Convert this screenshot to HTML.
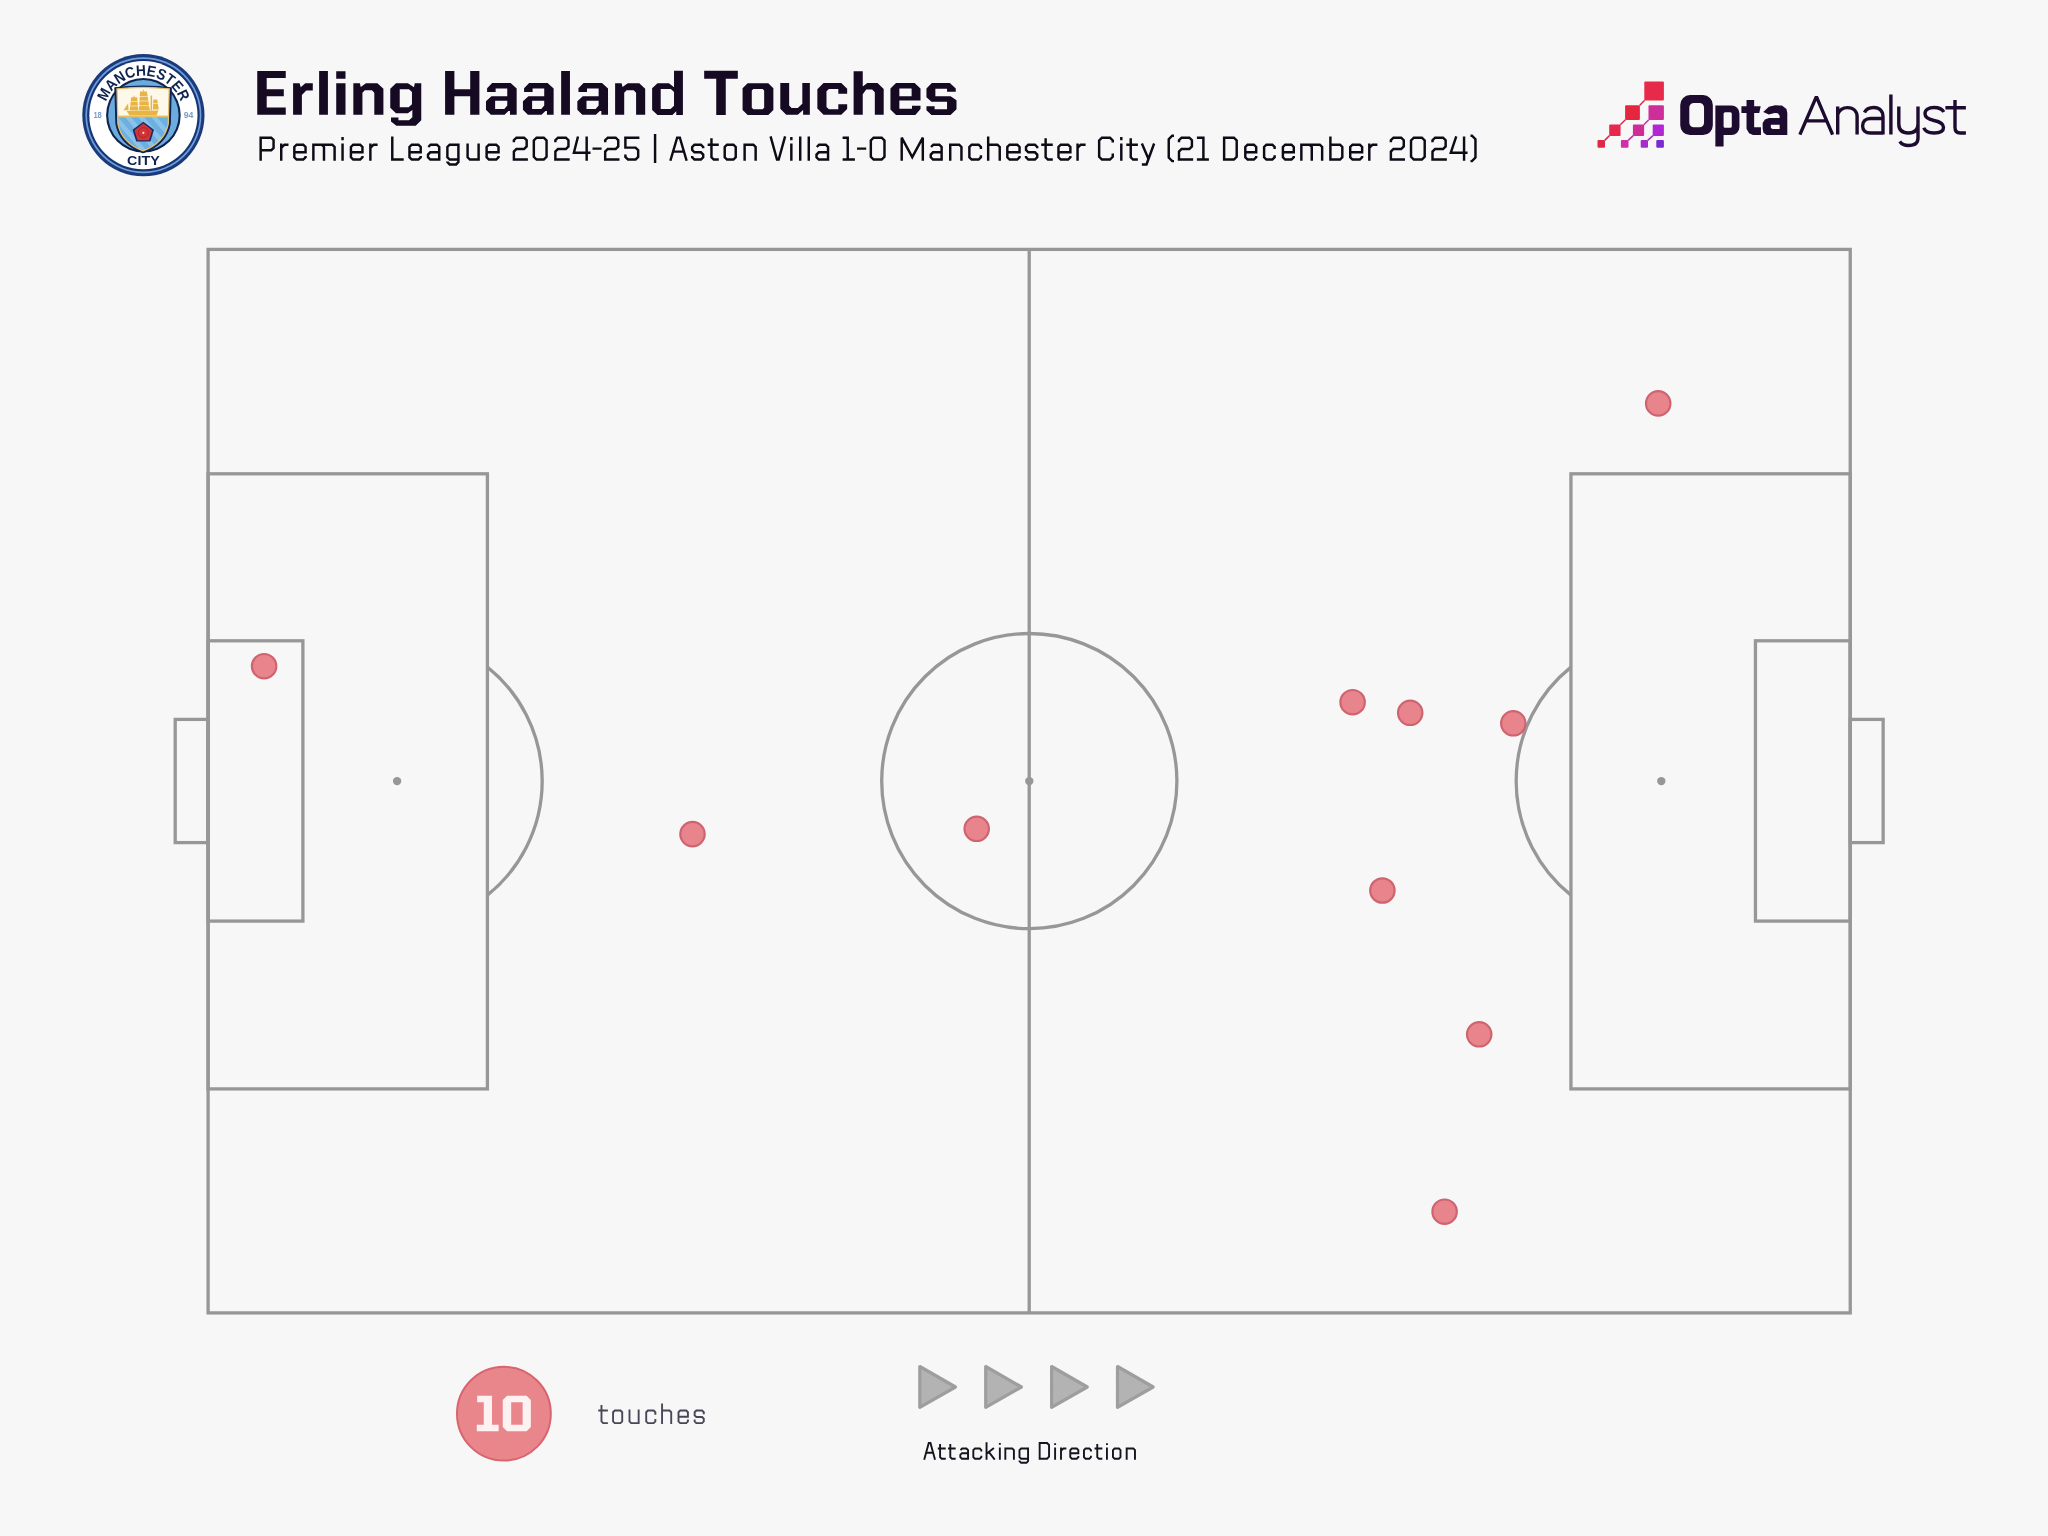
<!DOCTYPE html>
<html><head><meta charset="utf-8">
<style>
html,body{margin:0;padding:0;background:#f7f7f7;}
body{width:2048px;height:1536px;overflow:hidden;}
svg{display:block;will-change:transform;}
text{font-family:"Liberation Sans",sans-serif;}
</style></head>
<body>
<svg width="2048" height="1536" viewBox="0 0 2048 1536">
<rect width="2048" height="1536" fill="#f7f7f7"/>
<!-- pitch -->
<g fill="none" stroke="#979797" stroke-width="3.3" stroke-linejoin="miter">
  <rect x="208.1" y="249.4" width="1642.15" height="1063.5"/>
  <line x1="1029.2" y1="249.4" x2="1029.2" y2="1312.9"/>
  <circle cx="1029.3" cy="781.1" r="147.6"/>
  <!-- left -->
  <rect x="208.1" y="473.8" width="279.3" height="615.1"/>
  <rect x="208.1" y="640.8" width="94.8" height="280.3"/>
  <rect x="175.2" y="719.4" width="32.9" height="123.2"/>
  <path d="M487.4 667.1 A146 146 0 0 1 487.4 895.1"/>
  <!-- right -->
  <rect x="1570.95" y="473.8" width="279.3" height="615.1"/>
  <rect x="1755.45" y="640.8" width="94.8" height="280.3"/>
  <rect x="1850.25" y="719.4" width="32.9" height="123.2"/>
  <path d="M1570.95 667.1 A146 146 0 0 0 1570.95 895.1"/>
</g>
<g fill="#979797">
  <circle cx="1029.3" cy="781.1" r="4.2"/>
  <circle cx="397.1" cy="781.1" r="4.2"/>
  <circle cx="1661.3" cy="781.1" r="4.2"/>
</g>
<!-- dots -->
<g fill="#e8848b" stroke="#cf6470" stroke-width="2.2">
  <circle cx="1658.2" cy="403.4" r="12.2"/>
  <circle cx="264.1" cy="666.2" r="12.2"/>
  <circle cx="1352.6" cy="702.2" r="12.2"/>
  <circle cx="1410.2" cy="712.8" r="12.2"/>
  <circle cx="1513.3" cy="723.3" r="12.2"/>
  <circle cx="692.5" cy="834.1" r="12.2"/>
  <circle cx="976.7" cy="828.8" r="12.2"/>
  <circle cx="1382.4" cy="890.5" r="12.2"/>
  <circle cx="1479.2" cy="1034.3" r="12.2"/>
  <circle cx="1444.6" cy="1211.7" r="12.2"/>
</g>
<!-- opta logo -->
<g>
  <g stroke-width="1.5" fill="none">
    <line x1="1639.6" y1="105.5" x2="1644.6" y2="100.2" stroke="#e0284a"/>
    <line x1="1620.3" y1="124.8" x2="1625.4" y2="119.8" stroke="#e0284a"/>
    <line x1="1604.7" y1="140.4" x2="1609.5" y2="135.6" stroke="#e0284a"/>
    <line x1="1643.8" y1="124.8" x2="1648.8" y2="119.8" stroke="#cc2e9c"/>
    <line x1="1628.2" y1="140.4" x2="1633.2" y2="135.6" stroke="#cc2e9c"/>
    <line x1="1647.7" y1="140.4" x2="1653.0" y2="135.6" stroke="#a42dc8"/>
  </g>
  <rect x="1644.3" y="81.5" width="19.6" height="19" rx="1" fill="#e82a4a"/>
  <rect x="1625.1" y="105.2" width="14.8" height="14.85" rx="1" fill="#e6263f"/>
  <rect x="1648.5" y="105.2" width="15.4" height="14.85" rx="1" fill="#cd2e9a"/>
  <rect x="1609.2" y="124.5" width="11.4" height="11.4" rx="1" fill="#e6284c"/>
  <rect x="1632.9" y="124.5" width="11.2" height="11.4" rx="1" fill="#cf2c98"/>
  <rect x="1652.7" y="124.5" width="11.2" height="11.4" rx="1" fill="#b226d4"/>
  <rect x="1597.5" y="140.1" width="7.5" height="7.6" rx="1" fill="#e02848"/>
  <rect x="1620.9" y="140.1" width="7.6" height="7.6" rx="1" fill="#cf30a6"/>
  <rect x="1640.7" y="140.1" width="7.3" height="7.6" rx="1" fill="#a52dc8"/>
  <rect x="1656.3" y="140.1" width="7.6" height="7.6" rx="1" fill="#7a2ad0"/>
  <path fill="#1e0b30" fill-rule="evenodd" d="M1690.05 95.08 H1703.02 A9.8 9.8 0 0 1 1712.82 104.88 V125.21 A9.8 9.8 0 0 1 1703.02 135.01 H1690.05 A9.8 9.8 0 0 1 1680.25 125.21 V104.88 A9.8 9.8 0 0 1 1690.05 95.08 Z M1693.81 103.01 H1699.54 A4.5 4.5 0 0 1 1704.04 107.51 V122.87 A4.5 4.5 0 0 1 1699.54 127.37 H1693.81 A4.5 4.5 0 0 1 1689.31 122.87 V107.51 A4.5 4.5 0 0 1 1693.81 103.01 Z M1715.37 105.5 H1731.5 A8 8 0 0 1 1739.44 113.5 V127 A8 8 0 0 1 1731.5 135.01 H1723.58 V146.62 H1715.37 Z M1725.08 112.36 H1730.29 A1.5 1.5 0 0 1 1731.79 113.86 V126.15 A1.5 1.5 0 0 1 1730.29 127.65 H1725.08 A1.5 1.5 0 0 1 1723.58 126.15 V113.86 A1.5 1.5 0 0 1 1725.08 112.36 Z M1746.52 99.89 L1754.16 99.89 L1754.16 106.13 L1760.68 106.13 L1759.26 112.92 L1754.16 112.92 L1754.16 127.37 L1760.96 127.37 L1760.96 135.01 L1753.03 135.01 L1749.07 133.31 L1746.52 128.78 L1746.52 112.92 L1741.42 112.92 L1741.42 106.13 L1746.52 106.13 Z M1763.22 112.07 L1768.89 106.69 L1775.12 105.28 L1781.92 105.56 L1786.45 108.96 L1787.30 112.92 L1787.30 135.01 L1766.62 135.01 L1763.51 132.75 L1762.66 128.78 L1762.66 123.12 L1764.92 119.44 L1768.89 118.02 L1779.65 118.02 L1779.65 115.75 L1777.95 113.21 L1774.55 112.92 L1768.89 114.62 Z M1770.87 124.82 L1779.65 124.82 L1779.65 129.06 L1772.29 129.06 L1770.87 127.65 Z"/>
<path fill="none" stroke="#1e0b30" stroke-width="3.4" stroke-linejoin="bevel" d="M1799.9 134.6 L1816.4 96.6 L1832.6 134.6 M1807.2 120.9 H1825.6 M1837.7 106.4 V134.6 M1837.7 114.5 C1839.5 109.5 1843.5 107.6 1847.6 107.6 C1853.5 107.6 1857.1 111.5 1857.1 117 V134.6 M1864.5 112.5 C1866 109 1869.5 107.5 1873.8 107.5 C1879.5 107.5 1883 111 1883 117 V134.6 M1883 118.5 H1870.5 C1865.5 118.5 1862.6 121.5 1862.6 126 C1862.6 130.3 1865.5 133 1870.5 133 H1883 M1890.9 94.4 V134.6 M1898.8 106.4 V124 C1898.8 130 1902.5 133 1908.4 133 C1914.3 133 1918 130 1918 124 M1918 106.4 V138 C1918 143.5 1914.3 145.5 1908.4 145.5 C1904.3 145.5 1901.5 144 1899.7 141.5 M1943.8 112 C1942 108.8 1938.8 107.5 1934 107.5 C1928.5 107.5 1925 109.8 1925 113.8 C1925 117.8 1928.5 119.3 1934 120.5 C1940 121.7 1943.5 123.5 1943.5 127.5 C1943.5 131.3 1939.5 133 1934 133 C1928.5 133 1925 131.3 1923.8 127.8 M1955 99.96 V127.5 C1955 131.5 1956.7 133 1960.2 133 H1965.9 M1945.4 107.8 H1965.9"/>
</g>
<!-- badge -->
<g>
  <circle cx="143.4" cy="115.2" r="61.1" fill="#1a3a7c"/>
  <circle cx="143.4" cy="115.2" r="58.0" fill="#6e9fd8"/>
  <circle cx="143.4" cy="115.2" r="56.3" fill="#173476"/>
  <circle cx="143.4" cy="115.2" r="54.1" fill="#ffffff"/>
  <circle cx="143.4" cy="115.2" r="37.3" fill="#0f2350"/>
  <circle cx="143.4" cy="115.2" r="35.2" fill="#6cabdd"/>
  <defs>
    <path id="arcM" d="M103.9 115.2 A39.5 39.5 0 0 1 182.9 115.2"/>
    <clipPath id="shclip"><path d="M117 88.9 Q143 85.8 169.2 88.9 L168.3 123.6 Q165 142.5 143.1 150.9 Q121.2 142.5 117.9 123.6 Z"/></clipPath>
  </defs>
  <text font-size="15.2" font-weight="bold" fill="#0f2350"><textPath href="#arcM" startOffset="50%" text-anchor="middle" textLength="97" lengthAdjust="spacingAndGlyphs">MANCHESTER</textPath></text>
  <text x="143.4" y="165.1" font-size="13.4" font-weight="bold" fill="#0f2350" text-anchor="middle" textLength="32.6" lengthAdjust="spacingAndGlyphs">CITY</text>
  <text x="97.6" y="118.4" font-size="8.5" font-weight="bold" fill="#7a9cc8" text-anchor="middle" textLength="8.4" lengthAdjust="spacingAndGlyphs">18</text>
  <text x="188.6" y="118.4" font-size="8.5" font-weight="bold" fill="#7a9cc8" text-anchor="middle" textLength="9.7" lengthAdjust="spacingAndGlyphs">94</text>
  <path d="M114.9 87.8 Q143 84.2 171.25 87.8 L170.2 124 Q166.5 144.5 143.1 152.8 Q119.7 144.5 116 124 Z" fill="#0f2350" stroke="#0f2350" stroke-width="1.2" stroke-linejoin="round"/>
  <g clip-path="url(#shclip)">
    <rect x="110" y="80" width="70" height="37" fill="#fdf8ea"/>
    <rect x="110" y="116.7" width="70" height="40" fill="#6db0e0"/>
    <g fill="#96c8ee" opacity="0.75">
      <path d="M112 117 L118 117 L152 157 L146 157 Z"/>
      <path d="M125 117 L131 117 L165 157 L159 157 Z"/>
      <path d="M138 117 L144 117 L178 157 L172 157 Z"/>
      <path d="M151 117 L157 117 L191 157 L185 157 Z"/>
    </g>
    <rect x="110" y="115.6" width="70" height="1.8" fill="#e4bf63"/>
  </g>
  <path d="M117 88.9 Q143 85.8 169.2 88.9 L168.3 123.6 Q165 142.5 143.1 150.9 Q121.2 142.5 117.9 123.6 Z" fill="none" stroke="#e2c271" stroke-width="1.3"/>
  <!-- ship -->
  <g fill="#e8b545">
    <path d="M126.6 110.9 L158.4 110.4 L156.6 115.6 L129.6 115.6 Z"/>
    <path d="M123.6 110.2 L128.1 103.2 L128.5 110.2 Z"/>
    <path d="M131.2 97.2 L137.1 97.2 L138.5 110.4 L129.6 110.4 Z"/>
    <path d="M140.0 91.6 L146.9 91.6 L149.9 110.6 L139.0 110.6 Z"/>
    <path d="M153.3 99.6 L157.2 99.6 L158.8 109.6 L152.9 109.6 Z"/>
  </g>
  <g fill="#fdf8ea" opacity="0.85">
    <rect x="129" y="101.2" width="10" height="0.7"/>
    <rect x="129" y="105.6" width="10" height="0.7"/>
    <rect x="138.5" y="96.0" width="12" height="0.7"/>
    <rect x="138.5" y="100.6" width="12" height="0.7"/>
    <rect x="138.5" y="105.4" width="12" height="0.7"/>
    <rect x="152.5" y="103.2" width="7" height="0.7"/>
  </g>
  <rect x="150.6" y="95.5" width="1.5" height="15" fill="#e8b545"/>
  <rect x="133.6" y="95.6" width="0.9" height="2" fill="#e8b545"/>
  <rect x="143.0" y="89.8" width="0.9" height="2" fill="#e8b545"/>
  <!-- rose -->
  <path d="M143.3 121.8 L154 129.8 L150.4 141.6 L136.2 141.6 L132.6 129.8 Z" fill="#1c2a66"/>
  <path d="M143.3 123.6 L152.1 130.3 L149.1 140.2 L137.5 140.2 L134.5 130.3 Z" fill="#d43436"/>
  <circle cx="143.3" cy="132.6" r="5" fill="none" stroke="#9a1e2a" stroke-width="0.7"/>
  <circle cx="143.3" cy="132.8" r="1.1" fill="#f8e6c8"/>
</g>
<!-- title -->
<path fill="#150a22" fill-rule="evenodd" d="M257.26 70.93 L285.74 70.93 L285.74 78.09 L266.70 78.09 L266.70 89.16 L283.79 89.16 L283.79 96.16 L266.70 96.16 L266.70 107.55 L285.74 107.55 L285.74 114.73 L257.26 114.73 Z M293.09 83.14 L299.60 83.14 L300.74 87.20 L305.30 83.14 L312.79 83.14 L312.79 90.46 L306.30 90.46 L301.88 95.02 L301.88 114.73 L293.09 114.73 Z M319.13 71.09 L327.92 71.09 L327.92 114.73 L319.13 114.73 Z M336.22 71.26 L345.50 71.26 L345.50 78.74 L336.22 78.74 Z M336.22 83.14 L345.50 83.14 L345.50 114.73 L336.22 114.73 Z M353.34 83.20 L359.83 83.20 L360.76 86.90 L365.96 83.20 L377.46 83.20 L383.40 88.76 L383.40 114.73 L374.31 114.73 L374.31 92.84 L371.90 90.25 L364.84 90.25 L362.43 92.84 L362.43 114.73 L353.34 114.73 Z M390.26 88.76 L396.02 83.20 L407.89 83.20 L414.01 87.28 L414.76 83.20 L421.25 83.20 L421.25 120.31 L415.68 125.87 L396.39 125.87 L391.01 121.42 L391.01 117.52 L398.43 117.52 L398.43 120.31 L409.00 120.31 L412.34 117.34 L412.34 109.91 L407.89 113.25 L396.02 113.25 L390.26 107.69 Z M399.73 89.13 L409.00 89.13 L411.97 92.10 L411.97 104.35 L408.63 107.32 L399.73 107.32 Z M445.10 70.93 L454.40 70.93 L454.40 89.16 L470.20 89.16 L470.20 70.93 L479.40 70.93 L479.40 114.73 L470.20 114.73 L470.20 96.16 L454.40 96.16 L454.40 114.73 L445.10 114.73 Z M487.09 88.16 L492.16 83.09 L510.60 83.09 L516.66 88.54 L516.66 114.64 L509.98 114.64 L509.98 110.93 L508.49 110.93 L504.53 114.64 L490.93 114.64 L485.98 109.69 L485.98 101.28 L491.42 96.33 L507.26 96.33 L507.26 88.41 L495.63 88.41 L495.63 92.12 L487.09 92.12 Z M495.13 100.78 L507.26 100.78 L507.26 105.48 L504.29 108.95 L495.13 108.95 Z M524.06 88.16 L529.13 83.09 L547.57 83.09 L553.63 88.54 L553.63 114.64 L546.95 114.64 L546.95 110.93 L545.46 110.93 L541.50 114.64 L527.90 114.64 L522.95 109.69 L522.95 101.28 L528.39 96.33 L544.23 96.33 L544.23 88.41 L532.60 88.41 L532.60 92.12 L524.06 92.12 Z M532.10 100.78 L544.23 100.78 L544.23 105.48 L541.26 108.95 L532.10 108.95 Z M578.46 88.16 L583.53 83.09 L601.97 83.09 L608.03 88.54 L608.03 114.64 L601.35 114.64 L601.35 110.93 L599.86 110.93 L595.90 114.64 L582.30 114.64 L577.35 109.69 L577.35 101.28 L582.79 96.33 L598.63 96.33 L598.63 88.41 L587.00 88.41 L587.00 92.12 L578.46 92.12 Z M586.50 100.78 L598.63 100.78 L598.63 105.48 L595.66 108.95 L586.50 108.95 Z M561.16 71.09 L569.95 71.09 L569.95 114.73 L561.16 114.73 Z M615.12 83.20 L621.61 83.20 L622.54 86.90 L627.74 83.20 L639.24 83.20 L645.18 88.76 L645.18 114.73 L636.09 114.73 L636.09 92.84 L633.68 90.25 L626.62 90.25 L624.21 92.84 L624.21 114.73 L615.12 114.73 Z M652.13 88.31 L657.52 83.23 L668.95 83.23 L674.03 87.36 L674.03 70.86 L682.91 70.86 L682.91 114.97 L676.25 114.97 L676.25 111.16 L672.44 114.97 L657.52 114.97 L652.13 109.89 Z M660.70 88.95 L670.85 88.95 L674.03 92.12 L674.03 105.77 L670.53 108.94 L660.70 108.94 Z M704.18 70.86 L737.82 70.86 L737.82 78.79 L725.76 78.79 L725.76 114.97 L716.24 114.97 L716.24 78.79 L704.18 78.79 Z M742.58 88.31 L747.66 83.23 L768.29 83.23 L773.36 88.31 L773.36 109.89 L768.29 114.97 L747.66 114.97 L742.58 109.89 Z M753.37 88.95 L762.57 88.95 L764.16 90.53 L764.16 107.67 L762.57 109.26 L753.37 109.26 L751.78 107.67 L751.78 90.53 Z M780.30 83.04 L789.16 83.04 L789.16 105.60 L791.58 108.02 L797.75 108.02 L802.32 103.72 L802.32 83.04 L809.84 83.04 L809.84 114.73 L803.12 114.73 L803.12 109.89 L797.75 114.73 L786.21 114.73 L780.30 108.82 Z M817.36 89.22 L823.53 83.04 L841.26 83.04 L847.17 88.68 L847.17 93.78 L838.31 93.78 L838.31 88.95 L828.91 88.95 L826.49 91.36 L826.49 106.94 L828.91 109.36 L838.31 109.36 L838.31 104.26 L847.17 104.26 L847.17 109.09 L841.26 114.73 L823.53 114.73 L817.36 108.55 Z M853.61 71.22 L862.74 71.22 L862.74 86.53 L867.31 83.04 L877.51 83.04 L883.69 88.95 L883.69 114.73 L874.83 114.73 L874.83 92.17 L872.14 89.48 L866.24 89.48 L862.74 94.32 L862.74 114.73 L853.61 114.73 Z M890.45 88.39 L896.02 83.01 L914.57 83.01 L920.51 88.58 L920.51 100.45 L899.36 100.45 L899.36 108.80 L911.98 108.80 L911.98 105.65 L920.51 105.65 L920.51 108.99 L915.32 114.92 L896.02 114.92 L890.45 109.54 Z M899.36 88.58 L911.61 88.58 L911.61 96.18 L899.36 96.18 Z M926.45 88.39 L931.83 83.01 L949.83 83.01 L955.77 88.58 L955.77 91.73 L947.05 91.73 L947.05 88.76 L935.36 88.76 L935.36 96.18 L950.57 96.18 L956.51 100.27 L956.51 109.36 L950.57 114.92 L931.46 114.92 L926.45 110.29 L926.45 106.20 L934.61 106.20 L934.61 109.17 L947.05 109.17 L947.05 101.75 L931.46 101.75 L926.45 97.30 Z"/>
<path fill="none" stroke="#0e0a16" stroke-width="2.45" stroke-linejoin="miter" stroke-miterlimit="3" d="M260.65 160.78 V137.65 H271.27 L273.57 139.95 V147.95 L271.27 150.25 H260.65 M281.24 160.78 V143.47 M281.24 147.90 L284.44 144.7 H288.47 M294.33 152.3 H305.55 V147.00 L303.25 144.7 H296.63 L294.33 147.00 V157.25 L296.63 159.55 H303.25 L305.55 157.25 V155.95 M313.38 160.78 V144.7 H332.30 L334.60 147.00 V160.78 M323.99 160.78 V147.00 L321.69 144.7 M342.55 160.78 V143.47 M342.55 136.9 V140.3 M350.93 152.3 H362.44 V147.00 L360.13 144.7 H353.23 L350.93 147.00 V157.25 L353.23 159.55 H360.13 L362.44 157.25 V155.95 M370.38 160.78 V143.47 M370.38 147.90 L373.58 144.7 H377.60 M392.28 136.43 V159.55 H403.68 M409.47 152.3 H420.71 V147.00 L418.41 144.7 H411.77 L409.47 147.00 V157.25 L411.77 159.55 H418.41 L420.71 157.25 V155.95 M428.30 147.00 L430.60 144.7 H436.94 L439.25 147.00 V160.78 M439.25 152.3 H430.30 L428.00 154.60 V157.25 L430.30 159.55 H439.25 M458.40 159.55 H449.68 L447.38 157.25 V147.00 L449.68 144.7 H458.40 M458.40 143.47 V162.10 L456.10 164.4 H449.68 L447.38 162.10 V161.60 M467.60 143.47 V157.25 L469.90 159.55 H478.61 M478.61 143.47 V160.78 M486.62 152.3 H498.54 V147.00 L496.24 144.7 H488.93 L486.62 147.00 V157.25 L488.93 159.55 H496.24 L498.54 157.25 V155.95 M513.88 142.2 V140.25 L516.48 137.65 H524.07 L526.67 140.25 V146.40 L524.07 149.0 H516.48 L513.88 151.60 V159.55 H527.90 M536.62 137.65 H543.77 L546.57 140.45 V156.75 L543.77 159.55 H536.62 L533.83 156.75 V140.45 Z M555.38 142.2 V140.25 L557.98 137.65 H565.85 L568.45 140.25 V146.40 L565.85 149.0 H557.98 L555.38 151.60 V159.55 H569.68 M578.00 136.43 L573.90 152.7 H590.50 M586.67 136.43 V160.78 M592.50 148.6 H601.60 M605.19 142.2 V140.25 L607.79 137.65 H615.65 L618.25 140.25 V146.40 L615.65 149.0 H607.79 L605.19 151.60 V159.55 H619.48 M639.40 137.65 H625.39 V147.6 H635.57 L638.17 150.20 V156.95 L635.57 159.55 H628.00 L625.39 156.95 V154.6 M655.08 134.1 V163.1 M670.37 160.78 L677.15 137.65 H679.85 L686.63 160.78 M673.27 151.6 H683.73 M703.20 148.30 V147.00 L700.90 144.7 H694.48 L692.18 147.00 V150.02 L694.48 152.32 H700.90 L703.20 154.62 V157.25 L700.90 159.55 H694.48 L692.18 157.25 V155.95 M711.46 138.3 V157.25 L713.76 159.55 H718.78 M707.65 144.7 H718.78 M727.00 144.7 H733.43 L735.73 147.00 V157.25 L733.43 159.55 H727.00 L724.70 157.25 V147.00 Z M744.62 160.78 V143.47 M744.62 144.7 H753.35 L755.64 147.00 V160.78 M770.57 136.43 L777.00 159.55 H778.69 L785.12 136.43 M791.34 160.78 V143.47 M791.34 136.9 V140.3 M800.23 160.78 V136.45 M808.77 160.78 V136.45 M816.79 147.00 L819.09 144.7 H825.75 L828.05 147.00 V160.78 M828.05 152.3 H818.79 L816.50 154.60 V157.25 L818.79 159.55 H828.05 M842.60 137.65 H847.74 V159.55 M842.60 159.55 H854.90 M857.00 148.6 H866.20 M873.62 137.65 H881.68 L884.48 140.45 V156.75 L881.68 159.55 H873.62 L870.83 156.75 V140.45 Z M901.70 160.78 V137.65 L912.26 157.2 L922.82 137.65 V160.78 M931.04 147.00 L933.34 144.7 H939.33 L941.62 147.00 V160.78 M941.62 152.3 H933.04 L930.75 154.60 V157.25 L933.04 159.55 H941.62 M950.23 160.78 V143.47 M950.23 144.7 H959.14 L961.44 147.00 V160.78 M980.92 148.90 V147.00 L978.62 144.7 H971.66 L969.37 147.00 V157.25 L971.66 159.55 H978.62 L980.92 157.25 V155.35 M988.17 136.45 V160.78 M988.17 144.7 H997.43 L999.73 147.00 V160.78 M1007.31 152.3 H1019.55 V147.00 L1017.25 144.7 H1009.61 L1007.31 147.00 V157.25 L1009.61 159.55 H1017.25 L1019.55 157.25 V155.95 M1037.24 148.30 V147.00 L1034.94 144.7 H1028.32 L1026.02 147.00 V150.02 L1028.32 152.32 H1034.94 L1037.24 154.62 V157.25 L1034.94 159.55 H1028.32 L1026.02 157.25 V155.95 M1045.63 138.3 V157.25 L1047.93 159.55 H1052.80 M1041.20 144.7 H1052.80 M1058.47 152.3 H1070.38 V147.00 L1068.09 144.7 H1060.77 L1058.47 147.00 V157.25 L1060.77 159.55 H1068.09 L1070.38 157.25 V155.95 M1077.56 160.78 V143.47 M1077.56 147.90 L1080.76 144.7 H1085.62 M1112.77 142.6 V140.45 L1109.97 137.65 H1101.95 L1099.15 140.45 V156.75 L1101.95 159.55 H1109.97 L1112.77 156.75 V153.6 M1121.30 160.78 V143.47 M1121.30 136.9 V140.3 M1130.74 138.3 V157.25 L1133.04 159.55 H1137.90 M1126.30 144.7 H1137.90 M1141.88 143.47 L1148.60 159.25 M1154.12 143.47 L1146.50 164.40 H1141.88 M1174.01 135.7 L1172.24 135.7 L1168.74 139.2 V157.6 L1172.24 161.1 H1174.01 M1178.99 142.2 V140.25 L1181.59 137.65 H1189.33 L1191.93 140.25 V146.40 L1189.33 149.0 H1181.59 L1178.99 151.60 V159.55 H1193.15 M1196.90 137.65 H1203.40 V159.55 M1196.90 159.55 H1208.90 M1224.12 137.65 H1233.91 L1236.71 140.45 V156.75 L1233.91 159.55 H1224.12 Z M1245.30 152.3 H1256.19 V147.00 L1253.89 144.7 H1247.60 L1245.30 147.00 V157.25 L1247.60 159.55 H1253.89 L1256.19 157.25 V155.95 M1274.63 148.90 V147.00 L1272.34 144.7 H1266.40 L1264.11 147.00 V157.25 L1266.40 159.55 H1272.34 L1274.63 157.25 V155.35 M1282.90 152.3 H1293.78 V147.00 L1291.48 144.7 H1285.20 L1282.90 147.00 V157.25 L1285.20 159.55 H1291.48 L1293.78 157.25 V155.95 M1301.36 160.78 V144.7 H1319.85 L1322.14 147.00 V160.78 M1311.75 160.78 V147.00 L1309.45 144.7 M1330.40 136.45 V159.55 H1340.01 L1342.31 157.25 V147.00 L1340.01 144.7 H1330.40 M1350.22 152.3 H1362.13 V147.00 L1359.84 144.7 H1352.52 L1350.22 147.00 V157.25 L1352.52 159.55 H1359.84 L1362.13 157.25 V155.95 M1369.30 160.78 V143.47 M1369.30 147.90 L1372.50 144.7 H1377.37 M1390.89 142.2 V140.25 L1393.49 137.65 H1401.16 L1403.76 140.25 V146.40 L1401.16 149.0 H1393.49 L1390.89 151.60 V159.55 H1404.98 M1413.83 137.65 H1421.90 L1424.70 140.45 V156.75 L1421.90 159.55 H1413.83 L1411.03 156.75 V140.45 Z M1432.51 142.2 V140.25 L1435.11 137.65 H1443.05 L1445.64 140.25 V146.40 L1443.05 149.0 H1435.11 L1432.51 151.60 V159.55 H1446.87 M1456.27 136.43 L1450.80 152.7 H1467.55 M1464.06 136.43 V160.78 M1470.50 135.7 L1471.96 135.7 L1475.46 139.2 V157.6 L1471.96 161.1 H1470.50"/>
<!-- legend -->
<circle cx="503.9" cy="1413.7" r="46.9" fill="#e8868c" stroke="#d9646f" stroke-width="2"/>
<path fill="#fdf1f2" fill-rule="evenodd" d="M477.16 1395.74 H492.02 V1424.74 H498.64 V1431.19 H476.8 V1424.74 H483.78 V1402.19 H477.16 Z M507.06 1395.74 H526.6 L530.87 1400.04 V1426.9 L526.6 1431.19 H507.06 L502.76 1426.9 V1400.04 Z M511.17 1402.19 H522.63 V1424.74 H511.17 Z"/>
<path fill="none" stroke="#4a4558" stroke-width="1.9" stroke-linejoin="miter" stroke-miterlimit="3" d="M601.48 1405.1 V1421.40 L603.18 1423.1 H607.88 M598.25 1410.55 H607.88 M614.78 1410.55 H620.52 L622.22 1412.25 V1421.40 L620.52 1423.1 H614.78 L613.08 1421.40 V1412.25 Z M629.50 1409.60 V1421.40 L631.20 1423.1 H638.65 M638.65 1409.60 V1424.05 M655.35 1414.75 V1412.25 L653.65 1410.55 H647.91 L646.21 1412.25 V1421.40 L647.91 1423.1 H653.65 L655.35 1421.40 V1418.90 M662.07 1403.4 V1424.05 M662.07 1410.55 H669.52 L671.22 1412.25 V1424.05 M678.50 1416.7 H687.92 V1412.25 L686.22 1410.55 H680.20 L678.50 1412.25 V1421.40 L680.20 1423.1 H686.22 L687.92 1421.40 V1419.50 M703.78 1414.15 V1412.25 L702.08 1410.55 H696.34 L694.64 1412.25 V1415.32 L696.34 1417.02 H702.08 L703.78 1418.72 V1421.40 L702.08 1423.1 H696.34 L694.64 1421.40 V1419.50"/>
<g fill="#b3b3b3" stroke="#9e9e9e" stroke-width="3.2" stroke-linejoin="round">
  <path d="M919.8 1366.5 L955.5 1387 L919.8 1407.3 Z"/>
  <path d="M985.7 1366.5 L1021.4 1387 L985.7 1407.3 Z"/>
  <path d="M1051.6 1366.5 L1087.3 1387 L1051.6 1407.3 Z"/>
  <path d="M1117.5 1366.5 L1153.2 1387 L1117.5 1407.3 Z"/>
</g>
<path fill="none" stroke="#17141f" stroke-width="1.9" stroke-linejoin="miter" stroke-miterlimit="3" d="M924.18 1459.65 L928.76 1443.0 H930.46 L935.04 1459.65 M926.38 1452.7 H932.84 M940.09 1444.0 V1457.10 L941.69 1458.7 H945.75 M937.82 1448.5 H945.75 M950.29 1444.0 V1457.10 L951.89 1458.7 H955.67 M948.02 1448.5 H955.67 M960.50 1450.10 L962.10 1448.5 H966.43 L968.03 1450.10 V1459.65 M968.03 1453.2 H961.90 L960.30 1454.80 V1457.10 L961.90 1458.7 H968.03 M981.34 1451.50 V1450.10 L979.74 1448.5 H974.93 L973.33 1450.10 V1457.10 L974.93 1458.7 H979.74 L981.34 1457.10 V1455.70 M986.54 1442.2 V1459.65 M986.54 1453.8 L993.94 1447.9 M989.14 1452.3 L994.74 1459.65 M999.85 1459.65 V1447.55 M999.85 1443.1 V1444.8 M1005.33 1459.65 V1447.55 M1005.33 1448.5 H1012.31 L1013.91 1450.10 V1459.65 M1028.07 1458.7 H1021.09 L1019.49 1457.10 V1450.10 L1021.09 1448.5 H1028.07 M1028.07 1447.55 V1461.20 L1026.47 1462.8 H1021.09 L1019.49 1461.20 V1460.60 M1039.66 1443.0 H1047.04 L1049.04 1445.00 V1456.70 L1047.04 1458.7 H1039.66 Z M1055.10 1459.65 V1447.55 M1055.10 1443.2 V1445.1 M1061.00 1459.65 V1447.55 M1061.00 1450.80 L1063.30 1448.5 H1066.38 M1070.28 1453.2 H1078.32 V1450.10 L1076.72 1448.5 H1071.88 L1070.28 1450.10 V1457.10 L1071.88 1458.7 H1076.72 L1078.32 1457.10 V1456.10 M1090.94 1451.50 V1450.10 L1089.34 1448.5 H1085.58 L1083.98 1450.10 V1457.10 L1085.58 1458.7 H1089.34 L1090.94 1457.10 V1455.70 M1097.26 1444.0 V1457.10 L1098.86 1458.7 H1102.36 M1094.57 1448.5 H1102.36 M1106.93 1459.65 V1447.55 M1106.93 1443.2 V1445.1 M1114.58 1448.5 H1118.88 L1120.48 1450.10 V1457.10 L1118.88 1458.7 H1114.58 L1112.98 1457.10 V1450.10 Z M1126.68 1459.65 V1447.55 M1126.68 1448.5 H1133.38 L1134.98 1450.10 V1459.65"/>
</svg>
</body></html>
